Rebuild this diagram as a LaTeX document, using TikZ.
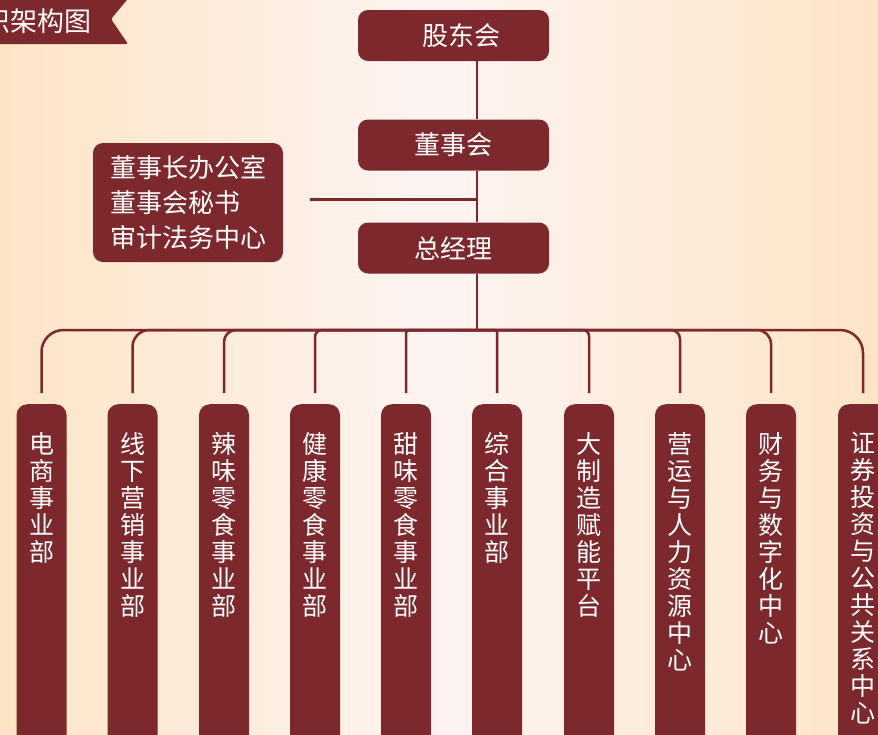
\documentclass[tikz,border=0pt]{standalone}
\usepackage{fontspec}
\setmainfont{Noto Sans CJK SC}
\definecolor{wine}{RGB}{124,40,44}
\definecolor{peach}{RGB}{253,228,198}
\definecolor{blush}{RGB}{253,244,242}
\tikzset{
  topbox/.style={rectangle, rounded corners=10pt, fill=wine, text=white, minimum width=191pt, minimum height=51pt, inner sep=0pt, font=\fontsize{26}{30}\selectfont},
  sidebox/.style={rectangle, rounded corners=10pt, fill=wine, text=white, minimum width=190pt, minimum height=119pt, inner sep=0pt, align=left, font=\fontsize{26}{35}\selectfont},
  deptbox/.style={rectangle, rounded corners=11pt, fill=wine, text=white, anchor=north, inner xsep=5pt, inner ysep=28pt, font=\fontsize{25}{27}\selectfont},
  titletext/.style={anchor=east, text=white, inner sep=0pt, font=\fontsize{27}{30}\selectfont},
  link/.style={draw=wine, line width=2.5pt},
}
\newcommand{\vlabel}[1]{\parbox[t][340pt][t]{40pt}{\centering #1}}
\begin{document}
\begin{tikzpicture}[x=1pt,y=-1pt]
\useasboundingbox (0,0) rectangle (878,734);
\clip (0,0) rectangle (878,734);
\shade[left color=peach, right color=peach, middle color=blush] (0,0) rectangle (878,734);
\fill[wine, rounded corners=2pt] (-20,-5) -- (131,-5) -- (111,19) -- (128,44) -- (-20,44) -- cycle;
\node[titletext] (title) at (92,21) {组织架构图};

\node[topbox] (sh) at (453.5,35.5) {\hspace*{15pt}股东会};
\node[topbox] (bd) at (453.5,145) {董事会};
\node[topbox] (gm) at (453.5,248) {总经理};
\node[sidebox] (of) at (188,202.5) {董事长办公室\\董事会秘书\\审计法务中心};
\coordinate (hub) at (477,330);

\node[deptbox] (d1) at (41.5,404) {\vlabel{电\\商\\事\\业\\部}};
\node[deptbox] (d2) at (132.5,404) {\vlabel{线\\下\\营\\销\\事\\业\\部}};
\node[deptbox] (d3) at (224,404) {\vlabel{辣\\味\\零\\食\\事\\业\\部}};
\node[deptbox] (d4) at (315,404) {\vlabel{健\\康\\零\\食\\事\\业\\部}};
\node[deptbox] (d5) at (406,404) {\vlabel{甜\\味\\零\\食\\事\\业\\部}};
\node[deptbox] (d6) at (497,404) {\vlabel{综\\合\\事\\业\\部}};
\node[deptbox] (d7) at (589,404) {\vlabel{大\\制\\造\\赋\\能\\平\\台}};
\node[deptbox] (d8) at (680,404) {\vlabel{营\\运\\与\\人\\力\\资\\源\\中\\心}};
\node[deptbox] (d9) at (771,404) {\vlabel{财\\务\\与\\数\\字\\化\\中\\心}};
\node[deptbox] (d10) at (863,404) {\vlabel{证\\券\\投\\资\\与\\公\\共\\关\\系\\中\\心}};

\draw[link] (sh.south -| hub) -- (bd.north -| hub);
\draw[link] (bd.south -| hub) -- (gm.north -| hub);
\draw[link] (gm.south -| hub) -- (hub);
\draw[link, shorten <=27pt] ([yshift=3pt]of.east) -- ([yshift=3pt]of.east -| hub);
\draw[link, rounded corners=22pt] (hub) -| ([yshift=11pt]d1.north);
\draw[link, rounded corners=17pt] (hub) -| ([yshift=11pt]d2.north);
\draw[link, rounded corners=12pt] (hub) -| ([yshift=11pt]d3.north);
\draw[link, rounded corners=7pt] (hub) -| ([yshift=11pt]d4.north);
\draw[link, rounded corners=3pt] (hub) -| ([yshift=11pt]d5.north);
\draw[link, rounded corners=2pt] (hub) -| ([yshift=11pt]d6.north);
\draw[link, rounded corners=6pt] (hub) -| ([yshift=11pt]d7.north);
\draw[link, rounded corners=9pt] (hub) -| ([yshift=11pt]d8.north);
\draw[link, rounded corners=14pt] (hub) -| ([yshift=11pt]d9.north);
\draw[link, rounded corners=23pt] (hub) -| ([yshift=11pt]d10.north);
\end{tikzpicture}
\end{document}
